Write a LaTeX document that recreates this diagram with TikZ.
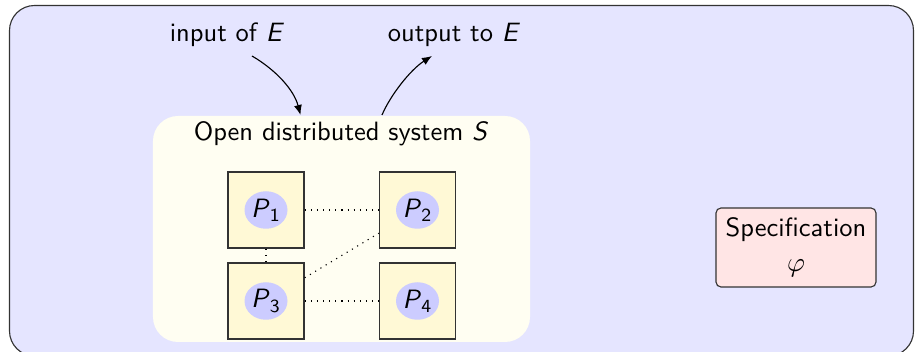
\documentclass[tikz,border=0pt]{standalone}
\usetikzlibrary{arrows.meta,shapes.geometric}
\definecolor{boxyellow}{RGB}{255,249,214}
\begin{document}
\begin{tikzpicture}[x=0.4pt,y=-0.4pt,
  every node/.style={font=\sffamily\fontsize{10.6}{13}\selectfont},
  env/.style={draw=black!80,line width=0.45pt,fill=blue!10,rounded corners=10pt},
  sysbox/.style={fill=yellow!5,rounded corners=10pt,minimum width=150.8pt,minimum height=90.4pt,inner sep=0pt},
  procbox/.style={draw=black!80,line width=0.55pt,fill=boxyellow,minimum width=30.4pt,minimum height=30.4pt,inner sep=0pt},
  proc/.style={ellipse,fill=blue!20,minimum width=17.2pt,minimum height=15pt,inner sep=0pt},
  spec/.style={draw=black!80,line width=0.45pt,fill=red!10,rounded corners=2pt,minimum width=64pt,minimum height=31.6pt,inner sep=1pt,align=center},
  link/.style={dotted,line width=0.45pt},
  flow/.style={line width=0.45pt,-{Latex[length=4pt,width=3.2pt]}}
]
\useasboundingbox (0,0) rectangle (915,352);
\draw[env] (9.5,5.5) rectangle (913.5,356);
\node[sysbox] (sys) at (341.5,229) {};
\node (title) at (341,134) {Open distributed system \textit{S}};
\node[procbox] (b1) at (266,210) {};
\node[procbox] (b2) at (417.5,210) {};
\node[procbox] (b3) at (266,301) {};
\node[procbox] (b4) at (417.5,301) {};
\node[proc] (p1) at (b1) {\textit{P}\textsubscript{1}};
\node[proc] (p2) at (b2) {\textit{P}\textsubscript{2}};
\node[proc] (p3) at (b3) {\textit{P}\textsubscript{3}};
\node[proc] (p4) at (b4) {\textit{P}\textsubscript{4}};
\draw[link] (b1) -- (b2);
\draw[link] (b1) -- (b3);
\draw[link] (b3) -- (b2);
\draw[link] (b3) -- (b4);
\node (in) at (227,35) {input of \textit{E}};
\node (out) at (454,35) {output to \textit{E}};
\coordinate (inS) at (252,56);
\coordinate (sysIn) at (300.5,115);
\coordinate (sysOut) at (382,115);
\coordinate (outS) at (432,56);
\draw[flow] (inS) .. controls (276,70) and (294,90) .. (sysIn);
\draw[flow] (sysOut) .. controls (390,96) and (410,70) .. (outS);
\node[spec] (phi) at (796,247.5) {Specification\\[1pt]$\varphi$};
\end{tikzpicture}
\end{document}
